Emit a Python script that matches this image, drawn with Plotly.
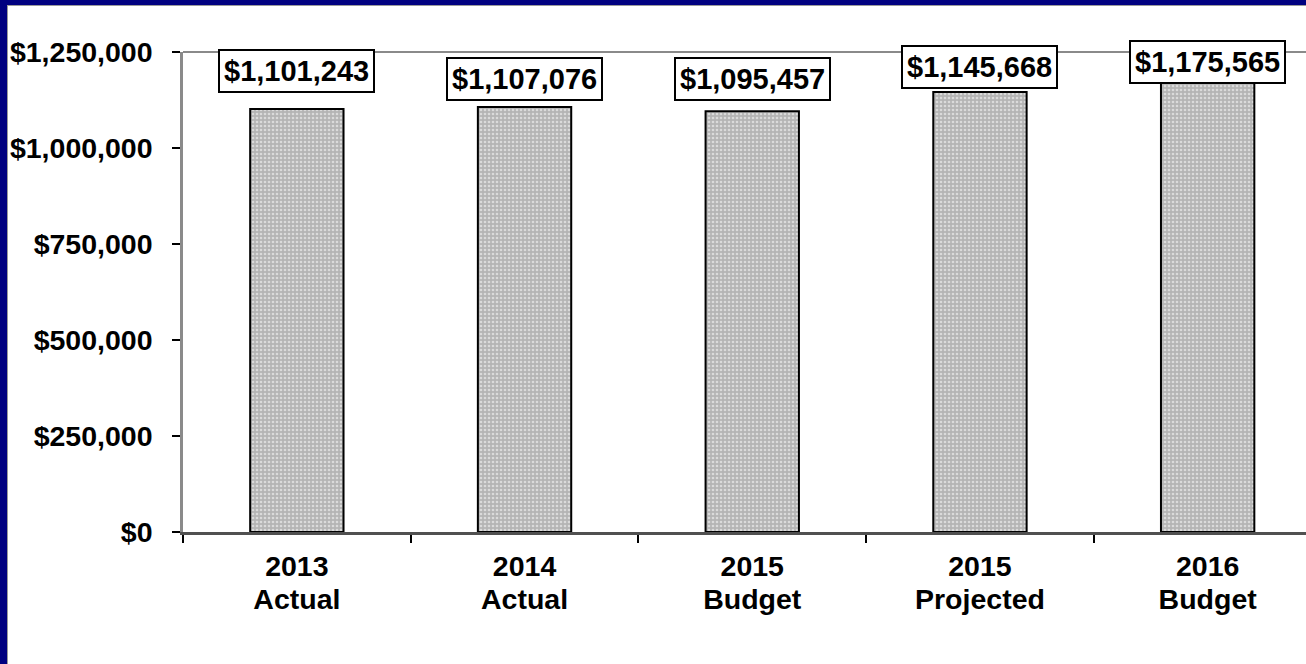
import plotly.graph_objects as go

# Annual totals by period
categories = ["2013 Actual", "2014 Actual", "2015 Budget", "2015 Projected", "2016 Budget"]
year_labels = ["2013", "2014", "2015", "2015", "2016"]
kind_labels = ["Actual", "Actual", "Budget", "Projected", "Budget"]
values = [1101243, 1107076, 1095457, 1145668, 1175565]

# vertical gap (px) between each bar top and its value box
label_gaps = [16, 6, 10, 3, -3]

W, H = 1306, 664
L, R, T, B = 183, 0, 52, 132
PW, PH = W - L - R, H - T - B

FONT = "Arial, Liberation Sans, sans-serif"

tick_text = [
    f'<span style="font-size:28.5px">{y}<br>{k}</span>' for y, k in zip(year_labels, kind_labels)
]

fig = go.Figure(
    go.Bar(
        x=categories,
        y=values,
        width=0.41,
        marker=dict(
            color="#b4b4b4",
            line=dict(color="black", width=2),
            pattern=dict(shape=".", fgcolor="white", size=4, solidity=0.35, fillmode="overlay"),
        ),
        hoverinfo="skip",
    )
)

for cat, v, gap in zip(categories, values, label_gaps):
    fig.add_annotation(
        x=cat, y=v, xref="x", yref="y",
        text=f"${v:,.0f}",
        showarrow=False,
        yanchor="bottom",
        yshift=gap,
        font=dict(family=FONT, size=29, color="black", weight="bold"),
        bgcolor="white",
        bordercolor="black",
        borderwidth=2,
        borderpad=4,
    )

def px_x(p):
    return (p - L) / PW

def px_y(p):
    return (H - B - p) / PH

shapes = [
    # navy frame along the left and top edges
    dict(type="rect", xref="paper", yref="paper", x0=px_x(0), x1=px_x(7), y0=px_y(H), y1=px_y(0),
         fillcolor="#000080", line=dict(width=0), layer="above"),
    dict(type="rect", xref="paper", yref="paper", x0=px_x(0), x1=px_x(W), y0=px_y(5), y1=px_y(0),
         fillcolor="#000080", line=dict(width=0), layer="above"),
    dict(type="line", xref="paper", yref="paper", x0=px_x(7.5), x1=px_x(7.5), y0=px_y(H), y1=px_y(5),
         line=dict(color="#9a9a9a", width=1)),
    dict(type="line", xref="paper", yref="paper", x0=px_x(7), x1=px_x(W), y0=px_y(5.5), y1=px_y(5.5),
         line=dict(color="#9a9a9a", width=1)),
    # plot-area top border
    dict(type="line", xref="paper", yref="paper", x0=0, x1=1, y0=1, y1=1,
         line=dict(color="#8a8a8a", width=2), layer="below"),
]

fig.update_layout(
    width=W, height=H,
    margin=dict(l=L, r=R, t=T, b=B, pad=0),
    paper_bgcolor="white",
    plot_bgcolor="white",
    showlegend=False,
    shapes=shapes,
    font=dict(family=FONT, color="black"),
    xaxis=dict(
        type="category",
        range=[-0.5, -0.5 + PW / 227.7],
        tickmode="array",
        tickvals=categories,
        ticktext=tick_text,
        tickson="boundaries",
        ticks="outside",
        ticklen=8,
        tickwidth=2,
        tickcolor="black",
        showline=True,
        linecolor="#505050",
        linewidth=3,
        showgrid=False,
        zeroline=False,
        ticklabelstandoff=11,
        tickfont=dict(family=FONT, size=25, color="black", weight="bold"),
        fixedrange=True,
    ),
    yaxis=dict(
        range=[0, 1250000],
        dtick=250000,
        tickprefix="$",
        tickformat=",.0f",
        ticks="outside",
        ticklen=8,
        tickwidth=2,
        tickcolor="black",
        showline=True,
        linecolor="#8a8a8a",
        linewidth=2.5,
        showgrid=False,
        zeroline=False,
        ticklabelstandoff=14,
        tickfont=dict(family=FONT, size=28.5, color="black", weight="bold"),
        fixedrange=True,
    ),
)

fig.write_html("out.html", config={"displayModeBar": False})
